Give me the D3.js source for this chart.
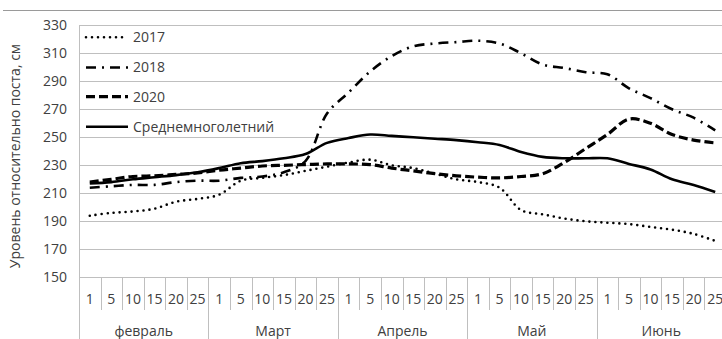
<!DOCTYPE html>
<html>
<head>
<meta charset="utf-8">
<script src="https://cdn.jsdelivr.net/npm/d3@7"></script>
<style>
  body { margin: 0; background: #fff; }
  text { font-family: "Open Sans", sans-serif; fill: #404040; }
</style>
</head>
<body>
<div id="graph"></div>
<script>
// data
var months = ["февраль", "Март", "Апрель", "Май", "Июнь"];
var days = ["1", "5", "10", "15", "20", "25"];
var yTicks = [150, 170, 190, 210, 230, 250, 270, 290, 310, 330];

var s2017 = [194, 196, 197, 199, 204, 206, 209, 219, 221, 223, 226, 229,
             232, 234, 230, 228, 224, 220, 218, 214, 198, 195, 192, 190,
             189, 188, 186, 184, 181, 176];
var s2018 = [214, 215, 216, 216, 218, 219, 219, 221, 222, 225, 233, 267,
             282, 297, 308, 315, 317, 318, 319, 317, 310, 302, 299.5, 296.5,
             295, 285, 278, 270, 264, 255];
var s2020 = [218, 220, 222, 222.5, 223.5, 224.5, 226.5, 228, 229.5, 230, 230.5, 231,
             231, 230.5, 228, 226, 224, 222.5, 221.5, 221, 222, 224, 232, 242,
             252, 263, 260, 252, 248, 246];
var sAvg = [217, 218, 220, 221.5, 223, 225, 228, 231.5, 233, 235, 238, 246,
            249.5, 252, 251, 250, 249, 248, 246.5, 244.5, 239.5, 236, 235, 235,
            235, 231, 227, 220, 216, 211];

var seriesNames = ["2017", "2018", "2020", "Среднемноголетний"];
var seriesData = [s2017, s2018, s2020, sAvg];

//measurements
var width = 722;
var height = 339;
var plot = { left: 79, right: 726, top: 25.3, bottom: 277.3 };

// category keys, one per month/day pair
var cats = [];
months.forEach(function (m) {
    days.forEach(function (d) { cats.push(m + "|" + d); });
});

var svg = d3.select("#graph").append("svg")
    .attr("width", width)
    .attr("height", height);

var x = d3.scaleBand().domain(cats).range([plot.left, plot.right]);
var y = d3.scaleLinear().domain([150, 330]).range([plot.bottom, plot.top]);

// outer frame top edge
svg.append("line")
    .attr("x1", 3).attr("x2", width)
    .attr("y1", 10.5).attr("y2", 10.5)
    .attr("stroke", "#9a9a9a");

// grid
svg.append("g").selectAll("line")
    .data(yTicks)
    .enter().append("line")
    .attr("x1", plot.left).attr("x2", plot.right)
    .attr("y1", function (d) { return Math.round(y(d)) + 0.5; })
    .attr("y2", function (d) { return Math.round(y(d)) + 0.5; })
    .attr("stroke", "#bfbfbf");

// y axis labels
var yAxis = d3.axisLeft(y).tickValues(yTicks).tickSize(0).tickPadding(12);
var yg = svg.append("g")
    .attr("transform", "translate(" + plot.left + ",0)")
    .call(yAxis);
yg.select(".domain").remove();
yg.selectAll("text").style("font-size", "14px").attr("font-family", null);

// left axis line (runs down through the category rows)
svg.append("line")
    .attr("x1", plot.left + 0.5).attr("x2", plot.left + 0.5)
    .attr("y1", plot.top).attr("y2", height)
    .attr("stroke", "#bfbfbf");

// day separators
svg.append("g").selectAll("line")
    .data(cats.slice(1))
    .enter().append("line")
    .attr("x1", function (d) { return Math.round(x(d)) + 0.5; })
    .attr("x2", function (d) { return Math.round(x(d)) + 0.5; })
    .attr("y1", plot.bottom)
    .attr("y2", function (d) { return d.split("|")[1] == "1" ? height : 310; })
    .attr("stroke", "#bfbfbf");

// day labels
svg.append("g").selectAll("text")
    .data(cats)
    .enter().append("text")
    .attr("x", function (d) { return x(d) + x.bandwidth() / 2; })
    .attr("y", 299)
    .attr("dy", "0.35em")
    .attr("text-anchor", "middle")
    .style("font-size", "14px")
    .text(function (d) { return d.split("|")[1]; });

// month labels
svg.append("g").selectAll("text")
    .data(months)
    .enter().append("text")
    .attr("x", function (m) { return x(m + "|1") + x.bandwidth() * 3; })
    .attr("y", 331)
    .attr("dy", "0.35em")
    .attr("text-anchor", "middle")
    .style("font-size", "14px")
    .text(function (m) { return m; });

// y axis title
svg.append("text")
    .attr("transform", "translate(15," + 156 + ") rotate(-90)")
    .attr("dy", "0.35em")
    .attr("text-anchor", "middle")
    .style("font-size", "14px")
    .text("Уровень относительно поста, см");

// line styles
var styles = [
    { width: 2.6, dash: "0,6", cap: "round" },
    { width: 2.6, dash: "10,6,2,6", cap: "butt" },
    { width: 3.2, dash: "9,4", cap: "butt" },
    { width: 2.6, dash: null, cap: "butt" }
];

var line = d3.line()
    .x(function (d, i) { return x(cats[i]) + x.bandwidth() / 2; })
    .y(function (d) { return y(d); })
    .curve(d3.curveCatmullRom.alpha(0.5));

seriesData.forEach(function (s, k) {
    svg.append("path")
        .datum(s)
        .attr("fill", "none")
        .attr("stroke", "#000")
        .attr("stroke-width", styles[k].width)
        .attr("stroke-linecap", styles[k].cap)
        .attr("stroke-dasharray", styles[k].dash)
        .attr("d", line);
});

// legend
var legendY = [37.3, 67.5, 96.7, 126.7];
seriesNames.forEach(function (name, k) {
    var g = svg.append("g");
    g.append("line")
        .attr("x1", 86).attr("x2", 128)
        .attr("y1", legendY[k]).attr("y2", legendY[k])
        .attr("stroke", "#000")
        .attr("stroke-width", styles[k].width)
        .attr("stroke-linecap", styles[k].cap)
        .attr("stroke-dasharray", styles[k].dash);
    g.append("text")
        .attr("x", 133)
        .attr("y", legendY[k])
        .attr("dy", "0.35em")
        .style("font-size", "14px")
        .text(name);
});
</script>
</body>
</html>
